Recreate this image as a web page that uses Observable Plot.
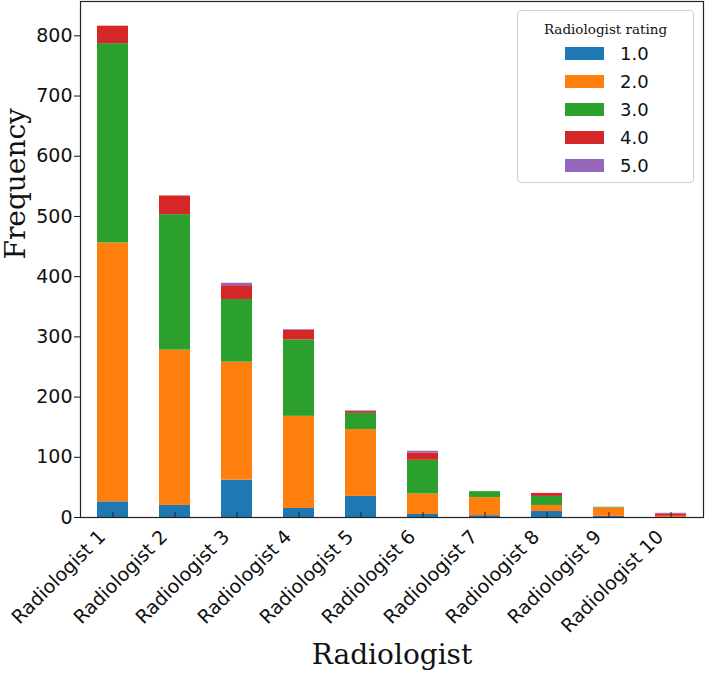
<!DOCTYPE html>
<html>
<head>
<meta charset="utf-8">
<script src="https://cdn.jsdelivr.net/npm/d3@7"></script>
<script src="https://cdn.jsdelivr.net/npm/@observablehq/plot@0.6"></script>
<style>
  body { margin: 0; background: #fff; }
  #wrap { position: relative; width: 706px; height: 681px; }
  #legend { position: absolute; left: 517px; top: 10px; width: 175px; height: 171px;
    border: 1px solid #cfcfcf; border-radius: 4px; background: rgba(255,255,255,0.85); box-sizing: content-box; }
  #legend .title { position: absolute; left: 0; width: 100%; top: 10px; text-align: center;
    font-family: "DejaVu Serif", serif; font-size: 13.5px; line-height: 16px; color: #111; }
  #legend .row { position: absolute; left: 0; width: 100%; height: 20px; }
  #legend .sw { position: absolute; left: 47px; top: 3px; width: 39px; height: 13px; }
  #legend .lab { position: absolute; left: 102px; top: 0; font-family: "DejaVu Sans", sans-serif;
    font-size: 18px; line-height: 20px; color: #111; }
</style>
</head>
<body>
<div id="wrap"><div id="legend"></div></div>
<script>
const radiologists = ["Radiologist 1","Radiologist 2","Radiologist 3","Radiologist 4","Radiologist 5",
  "Radiologist 6","Radiologist 7","Radiologist 8","Radiologist 9","Radiologist 10"];
const ratings = ["1.0","2.0","3.0","4.0","5.0"];
const colors = ["#1f77b4","#ff7f0e","#2ca02c","#d62728","#9467bd"];
// counts per rating, one value per radiologist
const rating1 = [26, 20, 62, 15, 35, 5, 3, 10, 2, 0];
const rating2 = [430, 258, 196, 153, 111, 34, 30, 10, 14, 2];
const rating3 = [331, 225, 104, 127, 27, 56, 10, 15, 1, 0];
const rating4 = [29, 31, 23, 16, 3, 12, 0, 5, 0, 4];
const rating5 = [0, 0, 4, 1, 1, 3, 0, 0, 0, 1];
const yTicks = [0, 100, 200, 300, 400, 500, 600, 700, 800];

const series = [rating1, rating2, rating3, rating4, rating5];
const data = [];
ratings.forEach((r, k) => radiologists.forEach((name, i) => data.push({name, rating: r, count: series[k][i]})));

const chart = Plot.plot({
  width: 706, height: 681,
  marginTop: 1, marginLeft: 80, marginRight: 3, marginBottom: 164,
  style: {fontFamily: "DejaVu Sans, sans-serif", fontSize: "19px", color: "#111", background: "#fff"},
  x: {domain: radiologists, paddingInner: 0.5, paddingOuter: 0.25, align: 0.5},
  y: {domain: [0, 857]},
  color: {domain: ratings, range: colors},
  marks: [
    Plot.barY(data, {x: "name", y: "count", fill: "rating", order: ratings, inset: 0}),
    Plot.axisY({ticks: yTicks, tickSize: 6, tickPadding: 2, label: null, fontSize: 19, strokeWidth: 1}),
    Plot.axisX({tickSize: -5, text: null, label: null, stroke: "#222"}),
    Plot.axisX({tickSize: 0, tickPadding: 11, dx: -16, rotate: -45, textAnchor: "end", label: null, fontSize: 19}),
    Plot.frame({stroke: "#222", strokeWidth: 1.2}),
    Plot.text(["Frequency"], {frameAnchor: "left", rotate: -90, dx: -64, fontSize: 28, fontFamily: "DejaVu Serif", fill: "#111"}),
    Plot.text(["Radiologist"], {frameAnchor: "bottom", dy: 146, fontSize: 28, fontFamily: "DejaVu Serif", fill: "#111"})
  ]
});
document.getElementById("wrap").prepend(chart);

const legend = document.getElementById("legend");
const t = document.createElement("div"); t.className = "title"; t.textContent = "Radiologist rating";
legend.appendChild(t);
ratings.forEach((r, k) => {
  const row = document.createElement("div"); row.className = "row";
  row.style.top = (33 + k * 28) + "px";
  const sw = document.createElement("div"); sw.className = "sw"; sw.style.background = colors[k];
  const lab = document.createElement("div"); lab.className = "lab"; lab.textContent = r;
  row.appendChild(sw); row.appendChild(lab); legend.appendChild(row);
});
</script>
</body>
</html>
